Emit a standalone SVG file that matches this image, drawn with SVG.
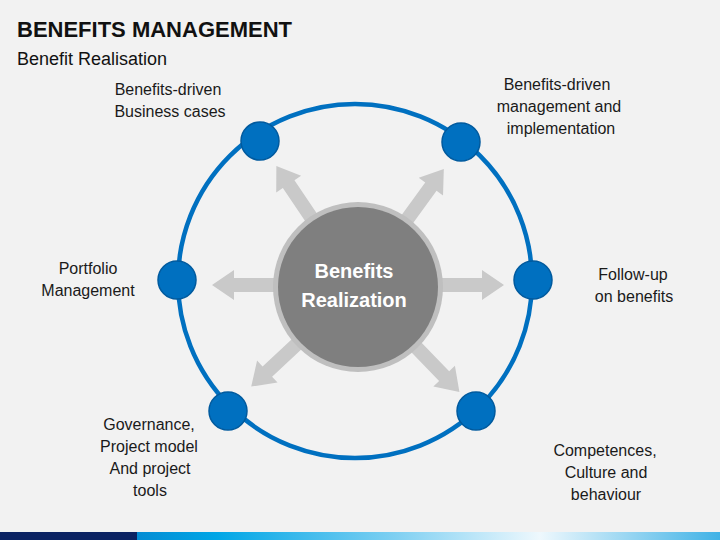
<svg xmlns="http://www.w3.org/2000/svg" width="720" height="540" viewBox="0 0 720 540">
<defs>
<style>
.lbl{font-family:"Liberation Sans",Arial,sans-serif;font-size:16px;fill:#1a1a1a;text-anchor:middle}
.node{fill:#0070c0;stroke:#005a9e;stroke-width:1.5}
.arr{fill:#c9c9c9}
</style>
<linearGradient id="bar" x1="0" y1="0" x2="1" y2="0">
<stop offset="0" stop-color="#0a5fb4"/>
<stop offset="0.3" stop-color="#00a6e6"/>
<stop offset="0.55" stop-color="#7fd0f2"/>
<stop offset="0.75" stop-color="#eef8fd"/>
<stop offset="1" stop-color="#3fb2e6"/>
</linearGradient>
<polygon id="arrow" points="0,-7 124,-7 124,-15 146,0 124,15 124,7 0,7"/>
</defs>
<rect width="720" height="540" fill="#f2f2f2"/>
<text x="17" y="37" font-family="'Liberation Sans',Arial,sans-serif" font-size="22" font-weight="bold" fill="#111">BENEFITS MANAGEMENT</text>
<text x="17" y="65" font-family="'Liberation Sans',Arial,sans-serif" font-size="18" fill="#111">Benefit Realisation</text>
<g id="ring"><circle cx="355" cy="281" r="177" fill="none" stroke="#0070c0" stroke-width="4.5"/></g>
<g id="connectors" class="arr">
<use href="#arrow" transform="translate(358,285) rotate(180)"/>
<use href="#arrow" transform="translate(358,285)"/>
<use href="#arrow" transform="translate(358,287) rotate(-124)"/>
<use href="#arrow" transform="translate(358,287) rotate(-54)"/>
<use href="#arrow" transform="translate(358,287) rotate(137)"/>
<use href="#arrow" transform="translate(358,287) rotate(46)"/>
</g>
<g id="center">
<circle cx="358" cy="287" r="85" fill="#bfbfbf"/>
<circle cx="358" cy="287" r="80" fill="#7f7f7f"/>
<text x="354" y="278" font-family="'Liberation Sans',Arial,sans-serif" font-size="20" font-weight="bold" fill="#fff" text-anchor="middle">Benefits</text>
<text x="354" y="307" font-family="'Liberation Sans',Arial,sans-serif" font-size="20" font-weight="bold" fill="#fff" text-anchor="middle">Realization</text>
</g>
<g id="n1"><circle class="node" cx="260" cy="141" r="19"/><text class="lbl" x="168" y="95">Benefits-driven</text><text class="lbl" x="170" y="117">Business cases</text></g>
<g id="n2"><circle class="node" cx="461" cy="142" r="19"/><text class="lbl" x="557" y="90">Benefits-driven</text><text class="lbl" x="559" y="112">management and</text><text class="lbl" x="561" y="134">implementation</text></g>
<g id="n3"><circle class="node" cx="177" cy="280" r="19"/><text class="lbl" x="88" y="274">Portfolio</text><text class="lbl" x="88" y="296">Management</text></g>
<g id="n4"><circle class="node" cx="533" cy="280" r="19"/><text class="lbl" x="633" y="280">Follow-up</text><text class="lbl" x="634" y="302">on benefits</text></g>
<g id="n5"><circle class="node" cx="228" cy="411" r="19"/><text class="lbl" x="149" y="430">Governance,</text><text class="lbl" x="149" y="452">Project model</text><text class="lbl" x="150" y="474">And project</text><text class="lbl" x="150" y="496">tools</text></g>
<g id="n6"><circle class="node" cx="476" cy="411" r="19"/><text class="lbl" x="605" y="456">Competences,</text><text class="lbl" x="606" y="478">Culture and</text><text class="lbl" x="606" y="500">behaviour</text></g>
<rect x="0" y="532" width="720" height="8" fill="url(#bar)"/>
<rect x="0" y="532" width="137" height="8" fill="#0b2363"/>
</svg>
